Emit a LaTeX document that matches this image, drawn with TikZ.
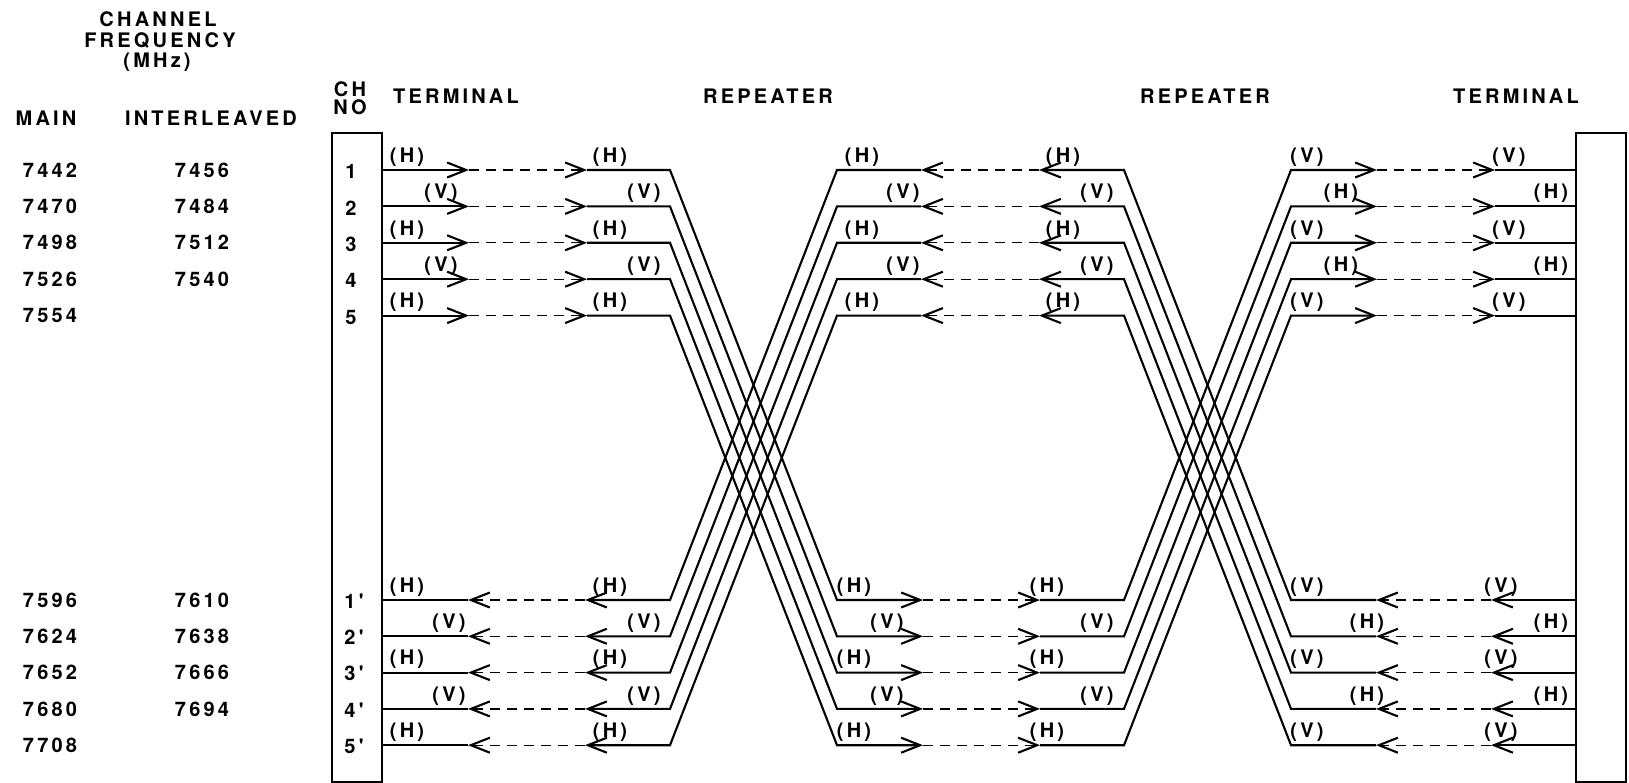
\documentclass[tikz,border=0pt]{standalone}
\usepackage{fontspec}
\setmainfont{Liberation Sans}
\newfontfamily\lblfont{TeX Gyre Heros}[LetterSpace=16,Ligatures=TeXOff]
\usetikzlibrary{arrows.meta}
\tikzset{
  lbl/.style={font=\lblfont\bfseries\fontsize{20}{22}\selectfont, inner sep=0pt, anchor=center},
  wire/.style={line width=2.1pt, line join=miter, line cap=butt},
  dwire/.style={line width=1.2pt, dash pattern=on 10pt off 7pt},
  barb/.style={-{Straight Barb[length=19pt,width=15pt,line width=2.1pt]}},
  boxst/.style={line width=2.1pt},
}
\begin{document}
\begin{tikzpicture}[x=1pt,y=-1pt]
\useasboundingbox (0,0) rectangle (1629,783);
% headings
\node[lbl] (hch) at (158,19) {CHANNEL};
\node[lbl] (hfr) at (160,41) {FREQUENCY};
\node[lbl] (hmhz) at (157,62) {(MHz)};
\node[lbl] (hmain) at (46,118) {MAIN};
\node[lbl] (hint) at (211,118) {INTERLEAVED};
\node[lbl] (hchn) at (350,89) {CH};
\node[lbl] (hno) at (350,107.5) {NO};
\node[lbl] (hterm1) at (456,96) {TERMINAL};
\node[lbl] (hrep1) at (768,96) {REPEATER};
\node[lbl] (hrep2) at (1205,96) {REPEATER};
\node[lbl] (hterm2) at (1516,96) {TERMINAL};
% boxes
\draw[boxst] (332,133) rectangle (382,782);
\draw[boxst] (1576,133) rectangle (1626,782);
% frequencies
\foreach \f [count=\i] in {7442,7470,7498,7526,7554}
  \node[lbl] (fm\i) at (50,{170+36.4*(\i-1)}) {\f};
\foreach \f [count=\i] in {7456,7484,7512,7540}
  \node[lbl] (fi\i) at (202,{170+36.4*(\i-1)}) {\f};
\foreach \f [count=\i] in {7596,7624,7652,7680,7708}
  \node[lbl] (fmb\i) at (50,{600+36.3*(\i-1)}) {\f};
\foreach \f [count=\i] in {7610,7638,7666,7694}
  \node[lbl] (fib\i) at (202,{600+36.3*(\i-1)}) {\f};
% channels
\foreach \i in {1,...,5}{
  \pgfmathsetmacro{\y}{170+36.4*(\i-1)}
  \pgfmathsetmacro{\b}{600+36.3*(\i-1)}
  \node[lbl] (ch\i) at (351,\y+1.5) {\i};
  \node[lbl] (chb\i) at (354,\b+1) {\i'};
  % top coordinates
  \coordinate (tA\i) at (382,\y);
  \coordinate (tB\i) at (469,\y);
  \coordinate (tC\i) at (587,\y);
  \coordinate (tD\i) at (670,\y);
  \coordinate (tE\i) at (837,\y);
  \coordinate (tF\i) at (921,\y);
  \coordinate (tG\i) at (1039,\y);
  \coordinate (tH\i) at (1124,\y);
  \coordinate (tI\i) at (1291,\y);
  \coordinate (tJ\i) at (1377,\y);
  \coordinate (tK\i) at (1495,\y);
  \coordinate (tL\i) at (1576,\y);
  % bottom coordinates
  \coordinate (bA\i) at (382,\b);
  \coordinate (bB\i) at (468,\b);
  \coordinate (bC\i) at (585,\b);
  \coordinate (bD\i) at (670,\b);
  \coordinate (bE\i) at (837,\b);
  \coordinate (bF\i) at (923,\b);
  \coordinate (bG\i) at (1040,\b);
  \coordinate (bH\i) at (1124,\b);
  \coordinate (bI\i) at (1291,\b);
  \coordinate (bJ\i) at (1376,\b);
  \coordinate (bK\i) at (1491,\b);
  \coordinate (bL\i) at (1576,\b);
  % go channel (top rows, left to right)
  \draw[wire,barb] (tA\i) -- (tB\i);
  \draw[dwire,barb] (tB\i) -- (tC\i);
  \draw[wire,barb] (tC\i) -- (tD\i) -- (bE\i) -- (bF\i);
  \draw[dwire,barb] (bF\i) -- (bG\i);
  \draw[wire,barb] (bG\i) -- (bH\i) -- (tI\i) -- (tJ\i);
  \draw[dwire,barb] (tJ\i) -- (tK\i);
  \draw[wire] (tK\i) -- (tL\i);
  % return channel (bottom rows, right to left)
  \draw[wire,barb] (bL\i) -- (bK\i);
  \draw[dwire,barb] (bK\i) -- (bJ\i);
  \draw[wire,barb] (bJ\i) -- (bI\i) -- (tH\i) -- (tG\i);
  \draw[dwire,barb] (tG\i) -- (tF\i);
  \draw[wire,barb] (tF\i) -- (tE\i) -- (bD\i) -- (bC\i);
  \draw[dwire,barb] (bC\i) -- (bB\i);
  \draw[wire] (bB\i) -- (bA\i);
  % polarisation labels
  \ifodd\i
    \def\pa{(H)}\def\pb{(V)}
    \def\xa{407}\def\xb{610}\def\xc{862}\def\xd{1063}\def\xe{1307}\def\xf{1509}
    \def\xA{407}\def\xB{610}\def\xC{854}\def\xD{1047}\def\xE{1307}\def\xF{1501}
  \else
    \def\pa{(V)}\def\pb{(H)}
    \def\xa{441}\def\xb{644}\def\xc{903}\def\xd{1097}\def\xe{1341}\def\xf{1551}
    \def\xA{449}\def\xB{644}\def\xC{887}\def\xD{1097}\def\xE{1367}\def\xF{1551}
  \fi
  \node[lbl] (pta\i) at (\xa,\y-13) {\pa};
  \node[lbl] (ptb\i) at (\xb,\y-13) {\pa};
  \node[lbl] (ptc\i) at (\xc,\y-13) {\pa};
  \node[lbl] (ptd\i) at (\xd,\y-13) {\pa};
  \node[lbl] (pte\i) at (\xe,\y-13) {\pb};
  \node[lbl] (ptf\i) at (\xf,\y-13) {\pb};
  \node[lbl] (pba\i) at (\xA,\b-13) {\pa};
  \node[lbl] (pbb\i) at (\xB,\b-13) {\pa};
  \node[lbl] (pbc\i) at (\xC,\b-13) {\pa};
  \node[lbl] (pbd\i) at (\xD,\b-13) {\pa};
  \node[lbl] (pbe\i) at (\xE,\b-13) {\pb};
  \node[lbl] (pbf\i) at (\xF,\b-13) {\pb};
}
\end{tikzpicture}
\end{document}
